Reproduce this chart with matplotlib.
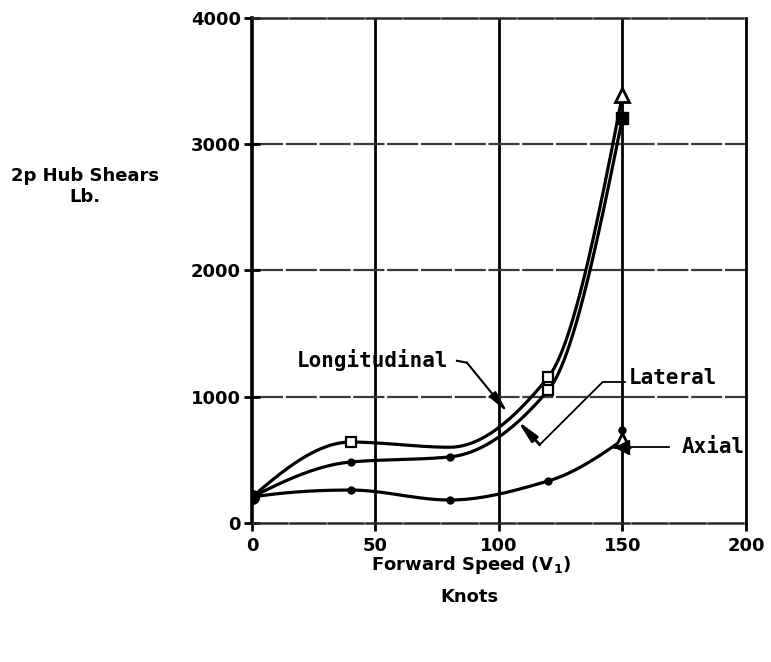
"""2p hub shears versus forward speed, longitudinal / lateral / axial."""

import numpy as np
import matplotlib
matplotlib.use("Agg")
import matplotlib.pyplot as plt


SPEED = [0, 40, 80, 120, 150]
LONGITUDINAL = [205, 641, 600, 1156, 3390]
LATERAL = [205, 483, 523, 1053, 3208]
AXIAL = [205, 261, 182, 333, 657]

# extra axial test points at 150 kt
AXIAL_EXTRA_SPEED = [150, 150]
AXIAL_EXTRA = [600, 740]

X_TICKS = [0, 50, 100, 150, 200]
Y_TICKS = [0, 1000, 2000, 3000, 4000]

TICK_FONT = dict(family="DejaVu Sans", weight="bold", size=13)
NOTE_FONT = dict(family="DejaVu Sans Mono", weight="bold", size=15)


def smooth_curve(x, y, num=300):
    """Monotone (Fritsch-Carlson) cubic through the points, like a French curve."""
    x = np.asarray(x, float)
    y = np.asarray(y, float)
    h = np.diff(x)
    d = np.diff(y) / h
    n = len(x)
    m = np.zeros(n)
    for i in range(1, n - 1):
        if d[i - 1] * d[i] > 0:
            w1 = 2 * h[i] + h[i - 1]
            w2 = h[i] + 2 * h[i - 1]
            m[i] = (w1 + w2) / (w1 / d[i - 1] + w2 / d[i])

    def end_slope(h0, h1, d0, d1):
        s = ((2 * h0 + h1) * d0 - h0 * d1) / (h0 + h1)
        if np.sign(s) != np.sign(d0):
            return 0.0
        if np.sign(d0) != np.sign(d1) and abs(s) > abs(3 * d0):
            return 3 * d0
        return s

    m[0] = end_slope(h[0], h[1], d[0], d[1])
    m[-1] = end_slope(h[-1], h[-2], d[-1], d[-2])

    xs = np.linspace(x[0], x[-1], num)
    k = np.clip(np.searchsorted(x, xs) - 1, 0, n - 2)
    t = (xs - x[k]) / h[k]
    h00 = 2 * t**3 - 3 * t**2 + 1
    h10 = t**3 - 2 * t**2 + t
    h01 = -2 * t**3 + 3 * t**2
    h11 = t**3 - t**2
    ys = h00 * y[k] + h10 * h[k] * m[k] + h01 * y[k + 1] + h11 * h[k] * m[k + 1]
    return xs, ys


fig = plt.figure(figsize=(7.71, 6.62), dpi=100)
ax = fig.add_axes([0.3268, 0.2100, 0.6407, 0.7628])
ax.set_xlim(0, 200)
ax.set_ylim(0, 4000)

# grid: heavy verticals, lighter horizontals
for xv in X_TICKS[1:-1]:
    ax.axvline(xv, color="black", lw=2.0, zorder=1)
for yv in Y_TICKS[1:-1]:
    ax.axhline(yv, color="#3a3a3a", lw=1.6, ls=(0, (14, 1.2)), zorder=1)

for side in ("top", "bottom"):
    ax.spines[side].set_linestyle((0, (14, 1.2)))
    ax.spines[side].set_color("#2a2a2a")
    ax.spines[side].set_linewidth(1.8)
ax.spines["left"].set_linewidth(2.6)
ax.spines["right"].set_linewidth(2.0)

ax.set_xticks(X_TICKS)
ax.set_yticks(Y_TICKS)
ax.tick_params(axis="y", direction="inout", length=12, width=2, pad=2)
ax.tick_params(axis="x", direction="out", length=6, width=2, pad=4)
for lbl in ax.get_xticklabels() + ax.get_yticklabels():
    lbl.set_fontfamily(TICK_FONT["family"])
    lbl.set_fontweight(TICK_FONT["weight"])
    lbl.set_fontsize(TICK_FONT["size"])

# curves
for yvals in (LONGITUDINAL, LATERAL, AXIAL):
    xs, ys = smooth_curve(SPEED, yvals)
    ax.plot(xs, ys, color="black", lw=2.3, solid_capstyle="round", zorder=3)

ax.plot(SPEED[0], LONGITUDINAL[0], "o", color="black", ms=10, zorder=4)

ax.plot(SPEED[1:4:2], LONGITUDINAL[1:4:2], "s", mfc="white", mec="black", mew=1.6, ms=7, zorder=4)
ax.plot(SPEED[4], LONGITUDINAL[4], "^", mfc="white", mec="black", mew=2, ms=10, zorder=4)

ax.plot(SPEED[1:3], LATERAL[1:3], "o", color="black", ms=5, zorder=4)
ax.plot(SPEED[3], LATERAL[3], "s", mfc="white", mec="black", mew=1.6, ms=7, zorder=4)
ax.plot(SPEED[4], LATERAL[4], "s", color="black", ms=8, zorder=4)

ax.plot(SPEED[1:4], AXIAL[1:4], "o", color="black", ms=5, zorder=4)
ax.plot(SPEED[4], AXIAL[4], "^", mfc="white", mec="black", mew=2, ms=10, zorder=4)
ax.plot(AXIAL_EXTRA_SPEED[0], AXIAL_EXTRA[0], "<", color="black", ms=10, zorder=4)
ax.plot(AXIAL_EXTRA_SPEED[1], AXIAL_EXTRA[1], "o", color="black", ms=5, zorder=4)

# callouts
ax.text(18, 1291, "Longitudinal", va="center", ha="left", **NOTE_FONT)
ax.plot([83, 87], [1285, 1270], color="black", lw=1.5, zorder=5)
ax.annotate("", xy=(103.5, 875), xytext=(87, 1270),
            arrowprops=dict(arrowstyle="-|>,head_length=1.3,head_width=0.25",
                            color="black", lw=1.5, shrinkA=0, shrinkB=0), zorder=5)

ax.text(152.5, 1150, "Lateral", va="center", ha="left", **NOTE_FONT)
ax.plot([151, 142, 116.5], [1117, 1117, 620], color="black", lw=1.3, zorder=5)
ax.annotate("", xy=(107.5, 810), xytext=(116.5, 620),
            arrowprops=dict(arrowstyle="-|>,head_length=1.3,head_width=0.25",
                            color="black", lw=2.0, shrinkA=0, shrinkB=0), zorder=5)

ax.text(174, 602, "Axial", va="center", ha="left", **NOTE_FONT)
ax.plot([153, 169], [600, 600], color="black", lw=1.3, zorder=5)

fig.text(0.110, 0.718, "2p Hub Shears\nLb.", ha="center", va="center",
         linespacing=1.25, **TICK_FONT)
fig.text(0.611, 0.146, "Forward Speed (V$_\\mathbf{1}$)", ha="center", va="center", **TICK_FONT)
fig.text(0.609, 0.098, "Knots", ha="center", va="center", **TICK_FONT)

fig.savefig("out.png", dpi=100, facecolor="white")
